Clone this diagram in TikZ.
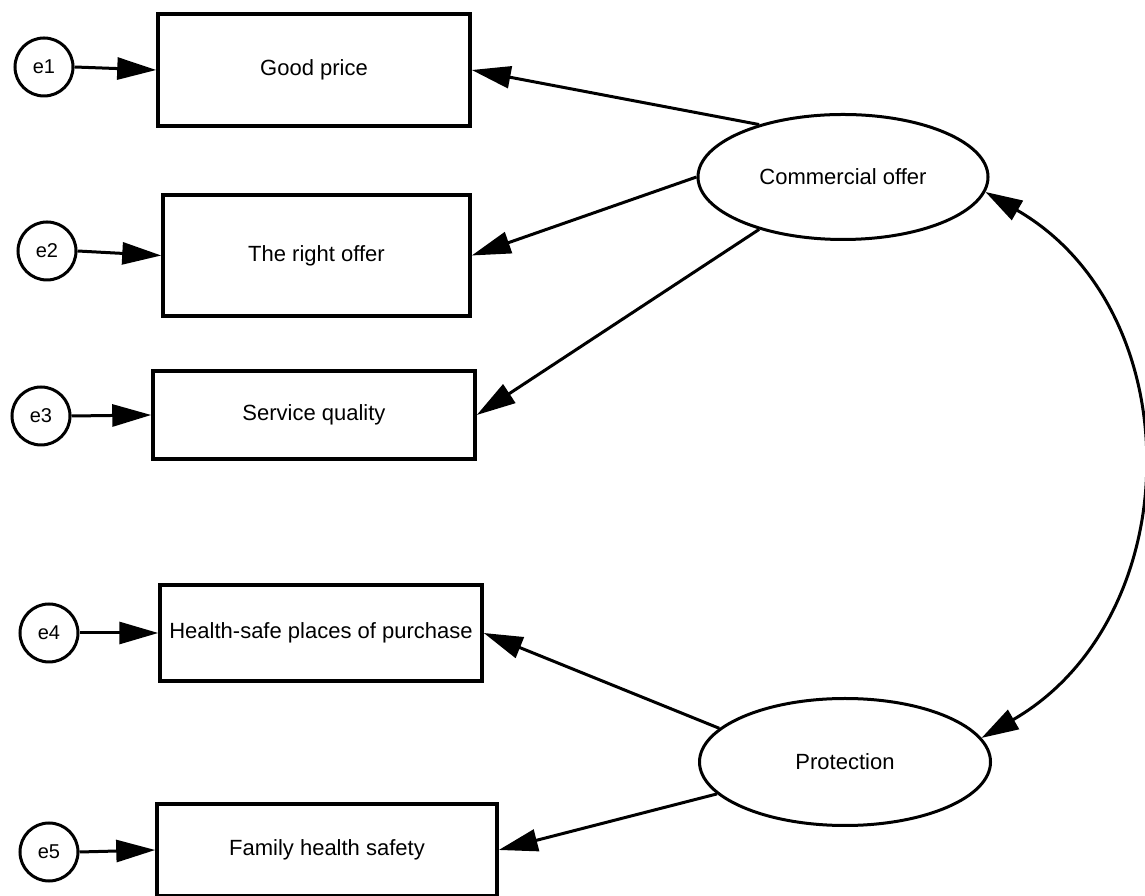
\documentclass[tikz,border=0pt]{standalone}
\usepackage{fontspec}
\setmainfont{Liberation Sans}
\usetikzlibrary{arrows.meta,shapes.geometric}
\begin{document}
\begin{tikzpicture}[x=1pt,y=1pt,
  obs/.style={draw, rectangle, line width=3.5pt, inner sep=0pt, font=\fontsize{22}{26}\selectfont},
  err/.style={draw, circle, line width=3pt, minimum size=58pt, inner sep=0pt, font=\fontsize{20}{24}\selectfont},
  lat/.style={draw, ellipse, line width=3pt, inner sep=0pt, font=\fontsize{22}{26}\selectfont},
  arr/.style={line width=3pt, -{Triangle[length=39pt,width=22pt]}},
  dbl/.style={line width=3pt, {Triangle[length=37pt,width=22pt]}-{Triangle[length=37pt,width=22pt]}},
]
\useasboundingbox (0,0) rectangle (1145,896);
% observed variables
\node[obs, minimum width=312pt, minimum height=112pt] (gp) at (314,826) {Good price};
\node[obs, minimum width=307pt, minimum height=121pt] (ro) at (316.5,640.5) {The right offer};
\node[obs, minimum width=322pt, minimum height=88pt] (sq) at (314,481) {Service quality};
\node[obs, minimum width=322pt, minimum height=96pt] (hs) at (321,263) {Health-safe places of purchase};
\node[obs, minimum width=340pt, minimum height=92pt] (fh) at (327,46) {Family health safety};
% errors
\node[err] (e1) at (44,829) {e1};
\node[err] (e2) at (47,645) {e2};
\node[err] (e3) at (41,480) {e3};
\node[err] (e4) at (49,263) {e4};
\node[err] (e5) at (49,44) {e5};
% latent variables
\node[lat, minimum width=290pt, minimum height=125pt] (co) at (843,719) {Commercial offer};
\node[lat, minimum width=291pt, minimum height=127pt] (pr) at (845,134) {Protection};
% error arrows
\draw[arr] (e1.east) -- (gp.west);
\draw[arr] (e2.east) -- (ro.west);
\draw[arr] (e3.east) -- (sq.west);
\draw[arr] (e4.east) -- (hs.west);
\draw[arr] (e5.east) -- (fh.west);
% loadings
\draw[arr] (co.148) -- (gp.east);
\draw[arr] (co.180) -- (ro.east);
\draw[arr] (co.212) -- (sq.east);
\draw[arr] (pr.165) -- (hs.east);
\draw[arr] (pr.194) -- (fh.east);
% covariance
\draw[dbl] (co.-6) to[out=-30,in=30,looseness=1.12] (pr.10);
\end{tikzpicture}
\end{document}
